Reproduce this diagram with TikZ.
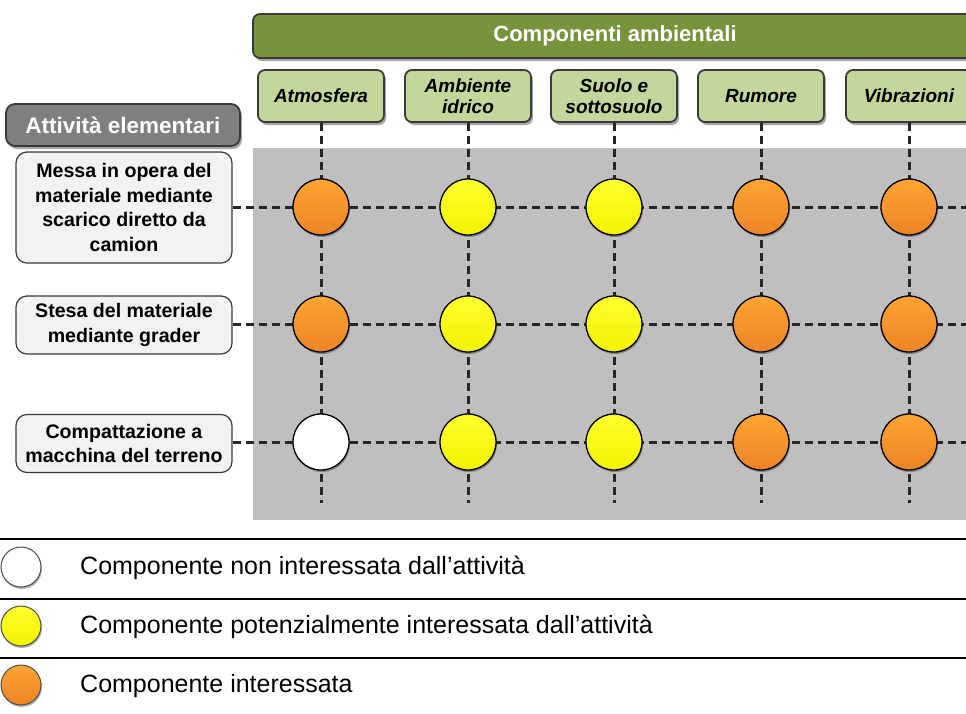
\documentclass[tikz,border=0pt]{standalone}
\usepackage{fontspec}
\setmainfont{Liberation Sans}
\usetikzlibrary{shadows}
\definecolor{barGreen}{HTML}{77933C}
\definecolor{hdrGreen}{HTML}{C3D69B}
\definecolor{bgGray}{HTML}{BFBFBF}
\definecolor{actGray}{HTML}{7F7F7F}
\definecolor{rowGray}{HTML}{F2F2F2}
\definecolor{edgeDark}{HTML}{3A3A3A}
\definecolor{dashCol}{HTML}{262626}
\definecolor{orTop}{HTML}{FFA433}
\definecolor{orBot}{HTML}{EC8426}
\definecolor{yeTop}{HTML}{FFFF30}
\definecolor{yeBot}{HTML}{F2F200}
\tikzset{
  shad/.style={drop shadow={shadow xshift=2pt, shadow yshift=-3pt, opacity=0.35, fill=black}},
  bar/.style={draw=edgeDark, line width=1.8pt, fill=barGreen, rounded corners=7pt, shad},
  hdr/.style={draw=edgeDark, line width=1.8pt, fill=hdrGreen, rounded corners=7pt, shad,
     minimum width=126pt, minimum height=52pt, align=center, inner sep=1pt,
     font=\fontsize{19}{20.5}\selectfont\bfseries\itshape},
  act/.style={draw=edgeDark, line width=1.8pt, fill=actGray, rounded corners=9pt, shad,
     minimum width=234pt, minimum height=42pt, text=white,
     font=\fontsize{22.5}{24}\selectfont\bfseries},
  rowbox/.style={draw=edgeDark, line width=1.2pt, fill=rowGray, rounded corners=11pt,
     minimum width=216pt, align=center, inner sep=1pt,
     font=\fontsize{19.6}{24.5}\selectfont\bfseries},
  grid/.style={draw=dashCol, line width=3pt, dash pattern=on 8pt off 5pt},
  ball/.style={circle, draw=black, line width=1.3pt, minimum size=56pt, inner sep=0pt,
     drop shadow={shadow xshift=1pt, shadow yshift=-2pt, opacity=0.3, fill=black}},
  orb/.style={ball, top color=orTop, bottom color=orBot},
  yeb/.style={ball, top color=yeTop, bottom color=yeBot},
  whb/.style={ball, fill=white},
  lgball/.style={circle, line width=1pt, minimum size=40pt, inner sep=0pt,
     drop shadow={shadow xshift=1pt, shadow yshift=-2pt, opacity=0.3, fill=black}},
  lgtext/.style={anchor=west, inner sep=0pt, font=\fontsize{25}{28}\selectfont},
  lgline/.style={draw=black, line width=2.6pt}
}
\begin{document}
\begin{tikzpicture}[x=1pt,y=-1pt]
\useasboundingbox (0,0) rectangle (966,713);
\clip (0,0) rectangle (966,713);
% gray background
\fill[bgGray] (253,148) rectangle (966,520);
% top bar
\draw[bar] (253,14) rectangle (990,58);
\node[text=white, font=\fontsize{22}{24}\selectfont\bfseries] (bartxt) at (615,36) {Componenti ambientali};
% column headers
\node[hdr] (c1) at (321,96) {Atmosfera};
\node[hdr] (c2) at (468,96) {Ambiente\\idrico};
\node[hdr] (c3) at (614,96) {Suolo e\\sottosuolo};
\node[hdr] (c4) at (761,96) {Rumore};
\node[hdr] (c5) at (909,96) {Vibrazioni};
% left header
\node[act] (act) at (123,125) {Attività elementari};
% row boxes
\node[rowbox, minimum height=111pt] (r1) at (124,207.5) {Messa in opera del\\materiale mediante\\scarico diretto da\\camion};
\node[rowbox, minimum height=58pt] (r2) at (124,325) {Stesa del materiale\\mediante grader};
\node[rowbox, minimum height=58pt] (r3) at (124,443.5) {Compattazione a\\macchina del terreno};
% row end coordinates
\coordinate (e1) at (966,207);
\coordinate (e2) at (966,324);
\coordinate (e3) at (966,442);
% column bottom coordinates
\coordinate (b1) at (321,503);
\coordinate (b2) at (468,503);
\coordinate (b3) at (614,503);
\coordinate (b4) at (761,503);
\coordinate (b5) at (909,503);
% grid lines
\draw[grid] (r1.east |- e1) -- (e1);
\draw[grid] (r2.east |- e2) -- (e2);
\draw[grid] (r3.east |- e3) -- (e3);
\foreach \i in {1,...,5}{
  \draw[grid] (c\i.south) -- (b\i);
}
% balls row 1
\node[orb] (m11) at (321,207) {};
\node[yeb] (m12) at (468,207) {};
\node[yeb] (m13) at (614,207) {};
\node[orb] (m14) at (761,207) {};
\node[orb] (m15) at (909,207) {};
% row 2
\node[orb] (m21) at (321,324) {};
\node[yeb] (m22) at (468,324) {};
\node[yeb] (m23) at (614,324) {};
\node[orb] (m24) at (761,324) {};
\node[orb] (m25) at (909,324) {};
% row 3
\node[whb] (m31) at (321,442) {};
\node[yeb] (m32) at (468,442) {};
\node[yeb] (m33) at (614,442) {};
\node[orb] (m34) at (761,442) {};
\node[orb] (m35) at (909,442) {};
% legend
\coordinate (l1a) at (0,539); \coordinate (l1b) at (966,539);
\coordinate (l2a) at (0,599); \coordinate (l2b) at (966,599);
\coordinate (l3a) at (0,658); \coordinate (l3b) at (966,658);
\draw[lgline] (l1a) -- (l1b);
\draw[lgline] (l2a) -- (l2b);
\draw[lgline] (l3a) -- (l3b);
\node[lgball, draw=black!70, fill=white] (k1) at (21,567) {};
\node[lgball, draw=black!70, top color=yeTop, bottom color=yeBot] (k2) at (21,626) {};
\node[lgball, draw=black!70, top color=orTop, bottom color=orBot] (k3) at (21,685) {};
\node[lgtext] (t1) at (80,568) {Componente non interessata dall’attività};
\node[lgtext] (t2) at (80,627) {Componente potenzialmente interessata dall’attività};
\node[lgtext] (t3) at (80,686) {Componente interessata};
\end{tikzpicture}
\end{document}
